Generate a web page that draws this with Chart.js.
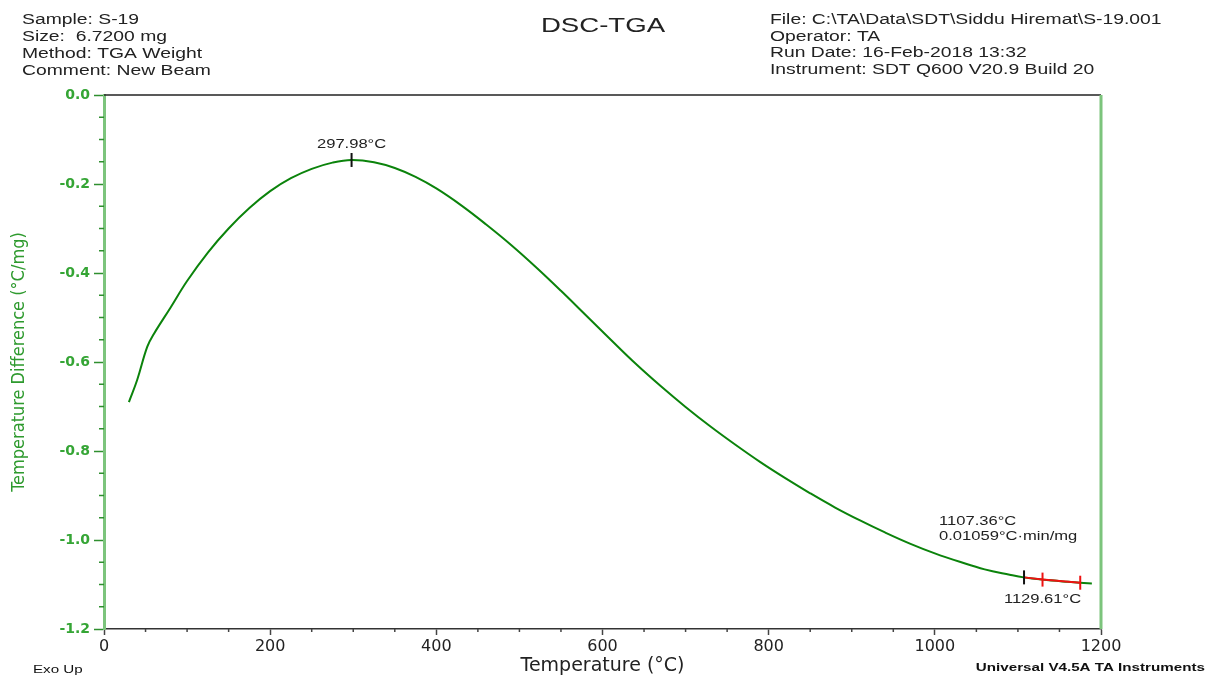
<!DOCTYPE html>
<html>
<head>
<meta charset="utf-8">
<title>DSC-TGA</title>
<script src="https://cdn.jsdelivr.net/npm/chart.js@4.4.1/dist/chart.umd.min.js"></script>
<style>
  body { margin: 0; background: #fff; }
  #wrap { width: 1208px; height: 677px; }
</style>
</head>
<body>
<div id="wrap"><canvas id="dscChart" width="1208" height="677"></canvas></div>
<script>
// curve: temperature (°C) vs temperature difference (°C/mg)
const tempC = [30, 40, 52, 60, 80, 100, 125, 150, 175, 200, 225, 250, 275, 298, 325, 350, 375, 400,
  430, 460, 490, 520, 550, 580, 610, 640, 670, 700, 730, 760, 790, 820, 850, 880, 910, 940, 970,
  1000, 1030, 1060, 1090, 1107, 1129, 1160, 1189];
const tempDiff = [-0.690, -0.640, -0.566, -0.537, -0.478, -0.418, -0.354, -0.300, -0.254, -0.216, -0.187,
  -0.166, -0.152, -0.146, -0.151, -0.164, -0.184, -0.210, -0.248, -0.291, -0.337, -0.387, -0.440, -0.495,
  -0.550, -0.604, -0.654, -0.701, -0.745, -0.786, -0.825, -0.861, -0.895, -0.927, -0.956, -0.983, -1.008,
  -1.030, -1.049, -1.066, -1.078, -1.084, -1.089, -1.094, -1.098];

// red onset line at the end of the run
const onsetT = [1107.36, 1129.61, 1175];
const onsetY = [-1.084, -1.089, -1.096];

// vertical markers on the curve
const markT = [297.98, 1107.36, 1129.61, 1175];
const markY = [-0.146, -1.084, -1.089, -1.096];
const markColors = ['#111111', '#111111', '#ee1111', '#ee1111'];

// axes
const X_MIN = 0, X_MAX = 1200, X_STEP = 200, X_MINOR = 50;
const Y_MIN = -1.2, Y_MAX = 0, Y_STEP = 0.2, Y_MINOR = 0.05;

const headerLeft = ['Sample: S-19', 'Size:  6.7200 mg', 'Method: TGA Weight', 'Comment: New Beam'];
const headerRight = ['File: C:\\TA\\Data\\SDT\\Siddu Hiremat\\S-19.001', 'Operator: TA',
  'Run Date: 16-Feb-2018 13:32', 'Instrument: SDT Q600 V20.9 Build 20'];

const GREEN_AXIS = '#7cc47c';
const GREEN_TEXT = '#35a535';
const SX = 1.38; // the original print is stretched sideways

function toPoints(xs, ys) {
    return xs.map((x, i) => ({ x: x, y: ys[i] }));
}

// draw text stretched like the TA print
function wideText(ctx, text, x, y, align, font, color) {
    ctx.save();
    ctx.font = font;
    ctx.fillStyle = color || '#222';
    ctx.textAlign = align;
    ctx.textBaseline = 'alphabetic';
    ctx.translate(x, y);
    ctx.scale(SX, 1);
    ctx.fillText(text, 0, 0);
    ctx.restore();
}

const decorPlugin = {
    id: 'decor',
    afterDraw(chart) {
        const ctx = chart.ctx;
        const area = chart.chartArea;
        const xs = chart.scales.x;
        const ys = chart.scales.y;

        // frame: black top, green right
        ctx.save();
        ctx.strokeStyle = '#222';
        ctx.lineWidth = 1.5;
        ctx.beginPath();
        ctx.moveTo(area.left, area.top);
        ctx.lineTo(area.right, area.top);
        ctx.stroke();
        ctx.strokeStyle = GREEN_AXIS;
        ctx.lineWidth = 3;
        ctx.beginPath();
        ctx.moveTo(area.right, area.top);
        ctx.lineTo(area.right, area.bottom);
        ctx.stroke();

        // minor ticks
        ctx.lineWidth = 1.5;
        ctx.strokeStyle = '#2f8f2f';
        for (let v = Y_MIN; v <= Y_MAX + 1e-9; v += Y_MINOR) {
            const r = Math.abs(v / Y_STEP - Math.round(v / Y_STEP));
            if (r < 1e-6) continue;
            const py = ys.getPixelForValue(v);
            ctx.beginPath();
            ctx.moveTo(area.left - 5, py);
            ctx.lineTo(area.left, py);
            ctx.stroke();
        }
        ctx.strokeStyle = '#444';
        for (let v = X_MIN; v <= X_MAX; v += X_MINOR) {
            if (v % X_STEP === 0) continue;
            const px = xs.getPixelForValue(v);
            ctx.beginPath();
            ctx.moveTo(px, area.bottom);
            ctx.lineTo(px, area.bottom + 3);
            ctx.stroke();
        }
        ctx.restore();

        // header block
        const hf = '14px "Liberation Sans", Arial, sans-serif';
        headerLeft.forEach((t, i) => wideText(ctx, t, 22, 24 + i * 17, 'left', hf));
        headerRight.forEach((t, i) => wideText(ctx, t, 770, 24 + i * 16.5, 'left', hf));
        wideText(ctx, 'DSC-TGA', 603, 32, 'center', '20px "Liberation Sans", Arial, sans-serif');

        // peak / onset annotations
        const af = '12px "Liberation Sans", Arial, sans-serif';
        const peakX = xs.getPixelForValue(markT[0]);
        const peakY = ys.getPixelForValue(markY[0]);
        wideText(ctx, '297.98°C', peakX, peakY - 12, 'center', af);
        const onX = xs.getPixelForValue(markT[1]);
        const onY = ys.getPixelForValue(markY[1]);
        wideText(ctx, '1107.36°C', onX - 85, onY - 52, 'left', af);
        wideText(ctx, '0.01059°C·min/mg', onX - 85, onY - 37, 'left', af);
        const o2X = xs.getPixelForValue(markT[2]);
        const o2Y = ys.getPixelForValue(markY[2]);
        wideText(ctx, '1129.61°C', o2X, o2Y + 23, 'center', af);

        // footer
        wideText(ctx, 'Exo Up', 33, 673, 'left', '11px "Liberation Sans", Arial, sans-serif', '#111');
        wideText(ctx, 'Universal V4.5A TA Instruments', 1205, 671, 'right',
            'bold 11px "Liberation Sans", Arial, sans-serif', '#111');
    }
};

function renderChart() {
    const ctx = document.getElementById('dscChart').getContext('2d');

    new Chart(ctx, {
        type: 'scatter',
        data: {
            datasets: [
                {
                    label: 'Temperature Difference',
                    data: toPoints(tempC, tempDiff),
                    showLine: true,
                    borderColor: '#0b830b',
                    borderWidth: 2,
                    pointRadius: 0,
                    tension: 0.4,
                    order: 3
                },
                {
                    label: 'Onset',
                    data: toPoints(onsetT, onsetY),
                    showLine: true,
                    borderColor: '#ee1111',
                    borderWidth: 2,
                    pointRadius: 0,
                    order: 2
                },
                {
                    label: 'Marks',
                    data: toPoints(markT, markY),
                    showLine: false,
                    pointStyle: 'line',
                    rotation: 90,
                    pointRadius: 7,
                    pointBorderWidth: 2,
                    pointBorderColor: markColors,
                    pointBackgroundColor: markColors,
                    order: 1
                }
            ]
        },
        options: {
            responsive: false,
            animation: false,
            layout: { padding: { top: 95, right: 107, left: 0, bottom: 0 } },
            plugins: {
                legend: { display: false },
                tooltip: { enabled: false }
            },
            scales: {
                x: {
                    type: 'linear',
                    min: X_MIN,
                    max: X_MAX,
                    afterFit(scale) { scale.height = 48; },
                    ticks: {
                        stepSize: X_STEP,
                        color: '#222',
                        padding: 2,
                        maxRotation: 0,
                        font: { family: '"DejaVu Sans", sans-serif', size: 16 },
                        callback: v => String(v)
                    },
                    grid: {
                        drawOnChartArea: false,
                        drawTicks: true,
                        tickLength: 6,
                        tickColor: '#444',
                        tickWidth: 1.5
                    },
                    border: { color: '#333', width: 1.5 },
                    title: {
                        display: true,
                        text: 'Temperature (°C)',
                        color: '#222',
                        padding: { top: 0, bottom: 0 },
                        font: { family: '"DejaVu Sans", sans-serif', size: 19 }
                    }
                },
                y: {
                    type: 'linear',
                    min: Y_MIN,
                    max: Y_MAX,
                    afterFit(scale) { scale.width = 104; },
                    ticks: {
                        stepSize: Y_STEP,
                        color: GREEN_TEXT,
                        padding: 4,
                        font: { family: '"DejaVu Sans", sans-serif', size: 14, weight: 'bold' },
                        callback: v => v.toFixed(1)
                    },
                    grid: {
                        drawOnChartArea: false,
                        drawTicks: true,
                        tickLength: 10,
                        tickColor: '#2f8f2f',
                        tickWidth: 1.5
                    },
                    border: { color: GREEN_AXIS, width: 3 },
                    title: {
                        display: true,
                        text: 'Temperature Difference (°C/mg)',
                        color: '#2e9a2e',
                        padding: { top: 9, bottom: 0 },
                        font: { family: '"DejaVu Sans Condensed", "Liberation Sans", sans-serif', size: 18 }
                    }
                }
            }
        },
        plugins: [decorPlugin]
    });
}

document.addEventListener('DOMContentLoaded', renderChart);
</script>
</body>
</html>
